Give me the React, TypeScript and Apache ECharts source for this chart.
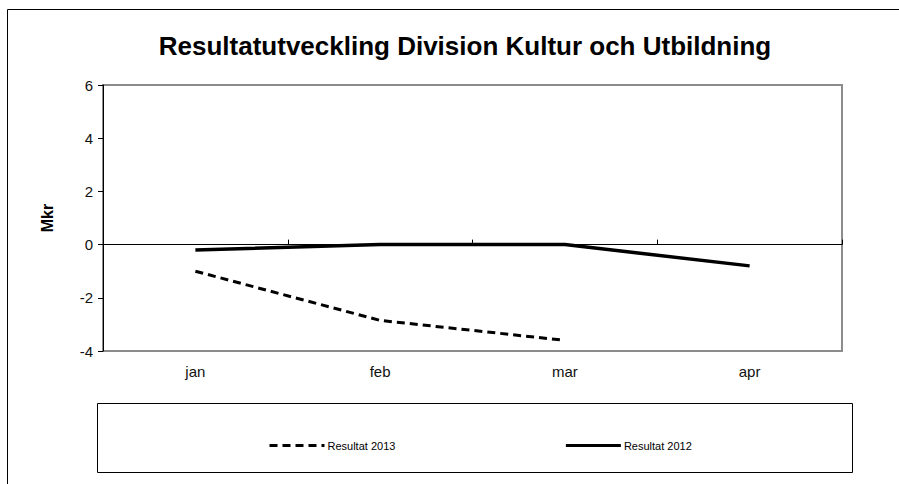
import React, { useEffect, useRef } from "react";
import * as echarts from "echarts";

const categories = ["jan", "feb", "mar", "apr"];
const result2013 = [-1.0, -2.85, -3.6];
const result2012 = [-0.2, 0, 0, -0.8];
const yTicks = { min: -4, max: 6, interval: 2 };

export default function App() {
  const ref = useRef<HTMLDivElement>(null);
  useEffect(() => {
    if (!ref.current) return;
    const chart = echarts.init(ref.current, null, { renderer: "svg" });
    const font = "'Liberation Sans', Arial, sans-serif";
    chart.setOption({
      animation: false,
      backgroundColor: "#ffffff",
      textStyle: { fontFamily: font },
      graphic: [
        {
          type: "rect",
          shape: { x: 7.5, y: 9.5, width: 1000, height: 600 },
          style: { fill: "none", stroke: "#000", lineWidth: 1 },
          silent: true,
          z: -10,
        },
        {
          type: "rect",
          shape: { x: 97.5, y: 403.5, width: 755, height: 69 },
          style: { fill: "none", stroke: "#000", lineWidth: 1 },
          silent: true,
          z: -10,
        },
        {
          type: "text",
          x: 465,
          y: 46,
          style: {
            text: "Resultatutveckling Division Kultur och Utbildning",
            font: `bold 26px ${font}`,
            fill: "#000",
            align: "center",
            verticalAlign: "middle",
          },
        },
      ],
      legend: {
        left: 263,
        top: 435,
        itemWidth: 55,
        itemHeight: 12,
        itemGap: 169,
        itemStyle: { opacity: 0 },
        lineStyle: { width: 3 },
        textStyle: { fontSize: 11, color: "#000", fontFamily: font, padding: [0, 0, 0, -2] },
        data: ["Resultat 2013", "Resultat 2012"],
      },
      grid: {
        left: 103,
        top: 85,
        width: 739,
        height: 266,
        show: true,
        borderColor: "#8c8c8c",
        borderWidth: 2,
        backgroundColor: "transparent",
      },
      xAxis: [
        {
          type: "category",
          data: categories,
          boundaryGap: true,
          axisLine: { show: true, onZero: true, lineStyle: { color: "#000", width: 1 } },
          axisTick: { show: true, length: 5, inside: true, alignWithLabel: false, lineStyle: { color: "#000" } },
          axisLabel: { show: false },
          splitLine: { show: false },
          z: 5,
        },
        {
          type: "category",
          data: categories,
          position: "bottom",
          boundaryGap: true,
          axisLine: { show: false, onZero: false },
          axisTick: { show: false },
          axisLabel: { show: true, color: "#111", fontSize: 15, margin: 13, fontFamily: font },
          splitLine: { show: false },
        },
      ],
      yAxis: {
        type: "value",
        min: yTicks.min,
        max: yTicks.max,
        interval: yTicks.interval,
        name: "Mkr",
        nameLocation: "middle",
        nameGap: 48,
        nameRotate: 90,
        nameTextStyle: { fontSize: 16, fontWeight: "bold", color: "#000", fontFamily: font },
        axisLine: { show: true, lineStyle: { color: "#000", width: 1 } },
        axisTick: { show: true, length: 5, lineStyle: { color: "#000" } },
        axisLabel: { color: "#111", fontSize: 15, margin: 10, fontFamily: font },
        splitLine: { show: false },
        z: 5,
      },
      series: [
        {
          name: "Resultat 2013",
          type: "line",
          data: result2013,
          symbol: "none",
          lineStyle: { color: "#000", width: 3, type: [8, 5] },
          itemStyle: { color: "#000" },
        },
        {
          name: "Resultat 2012",
          type: "line",
          data: result2012,
          symbol: "none",
          lineStyle: { color: "#000", width: 3.5 },
          itemStyle: { color: "#000" },
        },
      ],
    });
    return () => chart.dispose();
  }, []);
  return (
    <div
      ref={ref}
      style={{ position: "fixed", left: 0, top: 0, width: 899, height: 484 }}
    />
  );
}
